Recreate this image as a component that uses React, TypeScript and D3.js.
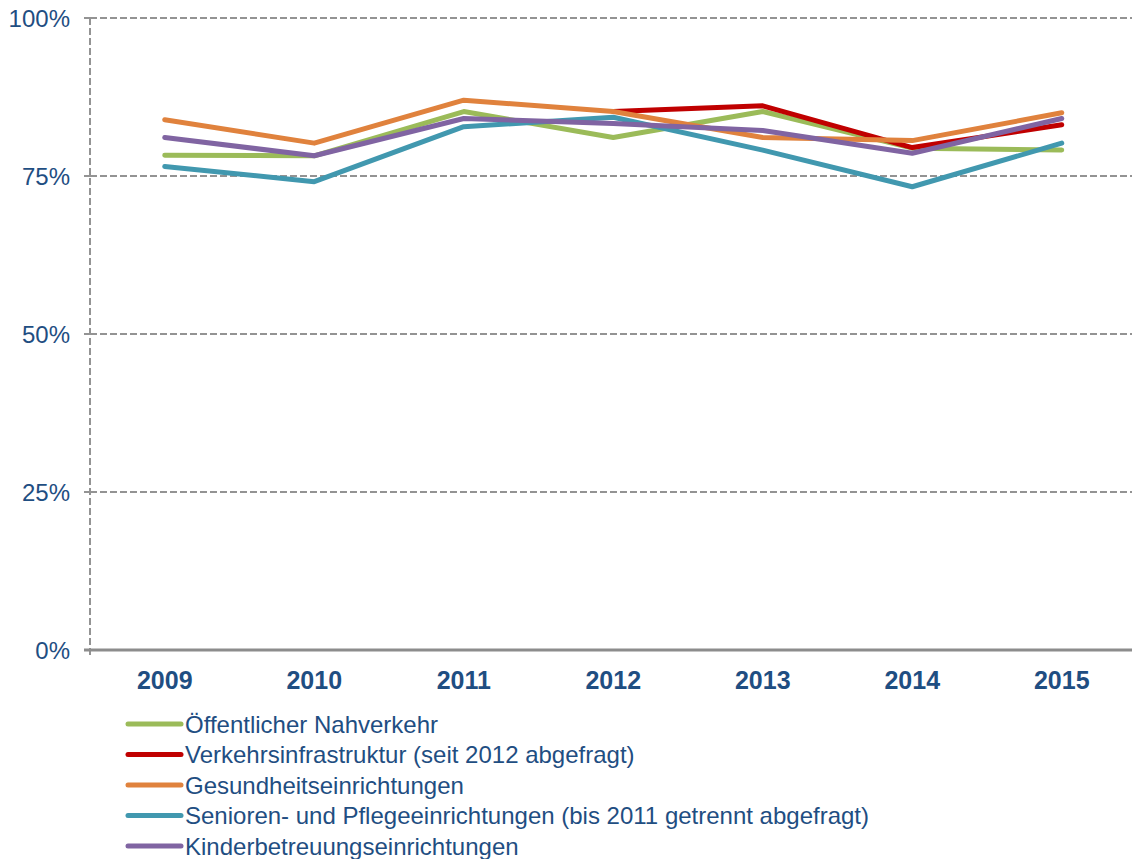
import React, { useRef, useEffect } from 'react';
import * as d3 from 'd3';

const years = ['2009', '2010', '2011', '2012', '2013', '2014', '2015'];

const seriesNames = [
  'Öffentlicher Nahverkehr',
  'Verkehrsinfrastruktur (seit 2012 abgefragt)',
  'Gesundheitseinrichtungen',
  'Senioren- und Pflegeeinrichtungen (bis 2011 getrennt abgefragt)',
  'Kinderbetreuungseinrichtungen',
];

const seriesColors = ['#9BBB59', '#C00000', '#E0823D', '#4198AF', '#8064A2'];

// values in percent, null = not asked that year
const nahverkehr = [78.3, 78.2, 85.2, 81.1, 85.2, 79.4, 79.1];
const infrastruktur = [null, null, null, 85.2, 86.1, 79.5, 83.1];
const gesundheit = [83.9, 80.2, 87.0, 85.2, 81.1, 80.6, 85.0];
const senioren = [76.5, 74.1, 82.8, 84.3, 79.1, 73.3, 80.2];
const kinder = [81.1, 78.2, 84.1, 83.3, 82.2, 78.6, 84.1];

const yTicks = [0, 25, 50, 75, 100];

const allSeries = [nahverkehr, infrastruktur, gesundheit, senioren, kinder];

const App: React.FC = () => {
  const svgRef = useRef<SVGSVGElement | null>(null);

  useEffect(() => {
    const width = 1132;
    const height = 859;
    const margin = { top: 18, left: 90, bottom: 650 };
    const textColor = '#1F4E82';
    const gridColor = '#939393';
    const font = 'Liberation Sans, Arial, sans-serif';

    d3.select(svgRef.current).selectAll('*').remove();
    const svg = d3.select(svgRef.current).attr('width', width).attr('height', height);

    const x = d3.scaleBand<string>().domain(years).range([margin.left, margin.left + 7 * 149.5]);
    const y = d3.scaleLinear().domain([0, 100]).range([margin.bottom, margin.top]);

    // gridlines
    svg.append('g')
      .selectAll('line')
      .data(yTicks.filter(t => t > 0))
      .enter()
      .append('line')
      .attr('x1', margin.left)
      .attr('x2', width)
      .attr('y1', d => y(d))
      .attr('y2', d => y(d))
      .attr('stroke', gridColor)
      .attr('stroke-width', 2)
      .attr('stroke-dasharray', '7,3');

    // y axis (dashed)
    svg.append('line')
      .attr('x1', margin.left).attr('x2', margin.left)
      .attr('y1', y(100)).attr('y2', y(0) + 8)
      .attr('stroke', gridColor)
      .attr('stroke-width', 2)
      .attr('stroke-dasharray', '7,3');

    // y ticks
    svg.append('g')
      .selectAll('line')
      .data(yTicks)
      .enter()
      .append('line')
      .attr('x1', margin.left - 6)
      .attr('x2', margin.left)
      .attr('y1', d => y(d))
      .attr('y2', d => y(d))
      .attr('stroke', gridColor)
      .attr('stroke-width', 2);

    // y labels
    svg.append('g')
      .selectAll('text')
      .data(yTicks)
      .enter()
      .append('text')
      .attr('x', 70)
      .attr('y', d => y(d))
      .attr('dy', '0.36em')
      .attr('text-anchor', 'end')
      .attr('font-family', font)
      .attr('font-size', 24)
      .attr('fill', textColor)
      .text(d => `${d}%`);

    // x axis line
    svg.append('line')
      .attr('x1', margin.left - 6).attr('x2', width)
      .attr('y1', y(0)).attr('y2', y(0))
      .attr('stroke', '#8C8C8C')
      .attr('stroke-width', 3);

    // x labels
    svg.append('g')
      .selectAll('text')
      .data(years)
      .enter()
      .append('text')
      .attr('x', d => x(d)! + x.bandwidth() / 2)
      .attr('y', 689)
      .attr('text-anchor', 'middle')
      .attr('font-family', font)
      .attr('font-weight', 'bold')
      .attr('font-size', 25)
      .attr('fill', textColor)
      .text(d => d);

    // lines
    const line = d3.line<number | null>()
      .defined(d => d !== null)
      .x((_, i) => x(years[i])! + x.bandwidth() / 2)
      .y(d => y(d as number));

    allSeries.forEach((s, i) => {
      svg.append('path')
        .datum(s)
        .attr('d', line)
        .attr('fill', 'none')
        .attr('stroke', seriesColors[i])
        .attr('stroke-width', 5)
        .attr('stroke-linecap', 'round')
        .attr('stroke-linejoin', 'round');
    });

    // legend
    const legend = svg.append('g');
    seriesNames.forEach((name, i) => {
      const ly = 724 + i * 30.5;
      legend.append('line')
        .attr('x1', 128).attr('x2', 181)
        .attr('y1', ly).attr('y2', ly)
        .attr('stroke', seriesColors[i])
        .attr('stroke-width', 5)
        .attr('stroke-linecap', 'round');
      legend.append('text')
        .attr('x', 185)
        .attr('y', ly)
        .attr('dy', '0.36em')
        .attr('font-family', font)
        .attr('font-size', 24)
        .attr('fill', textColor)
        .text(name);
    });
  }, []);

  return <svg ref={svgRef} style={{ position: 'absolute', left: 0, top: 0 }}></svg>;
};

export default App;
